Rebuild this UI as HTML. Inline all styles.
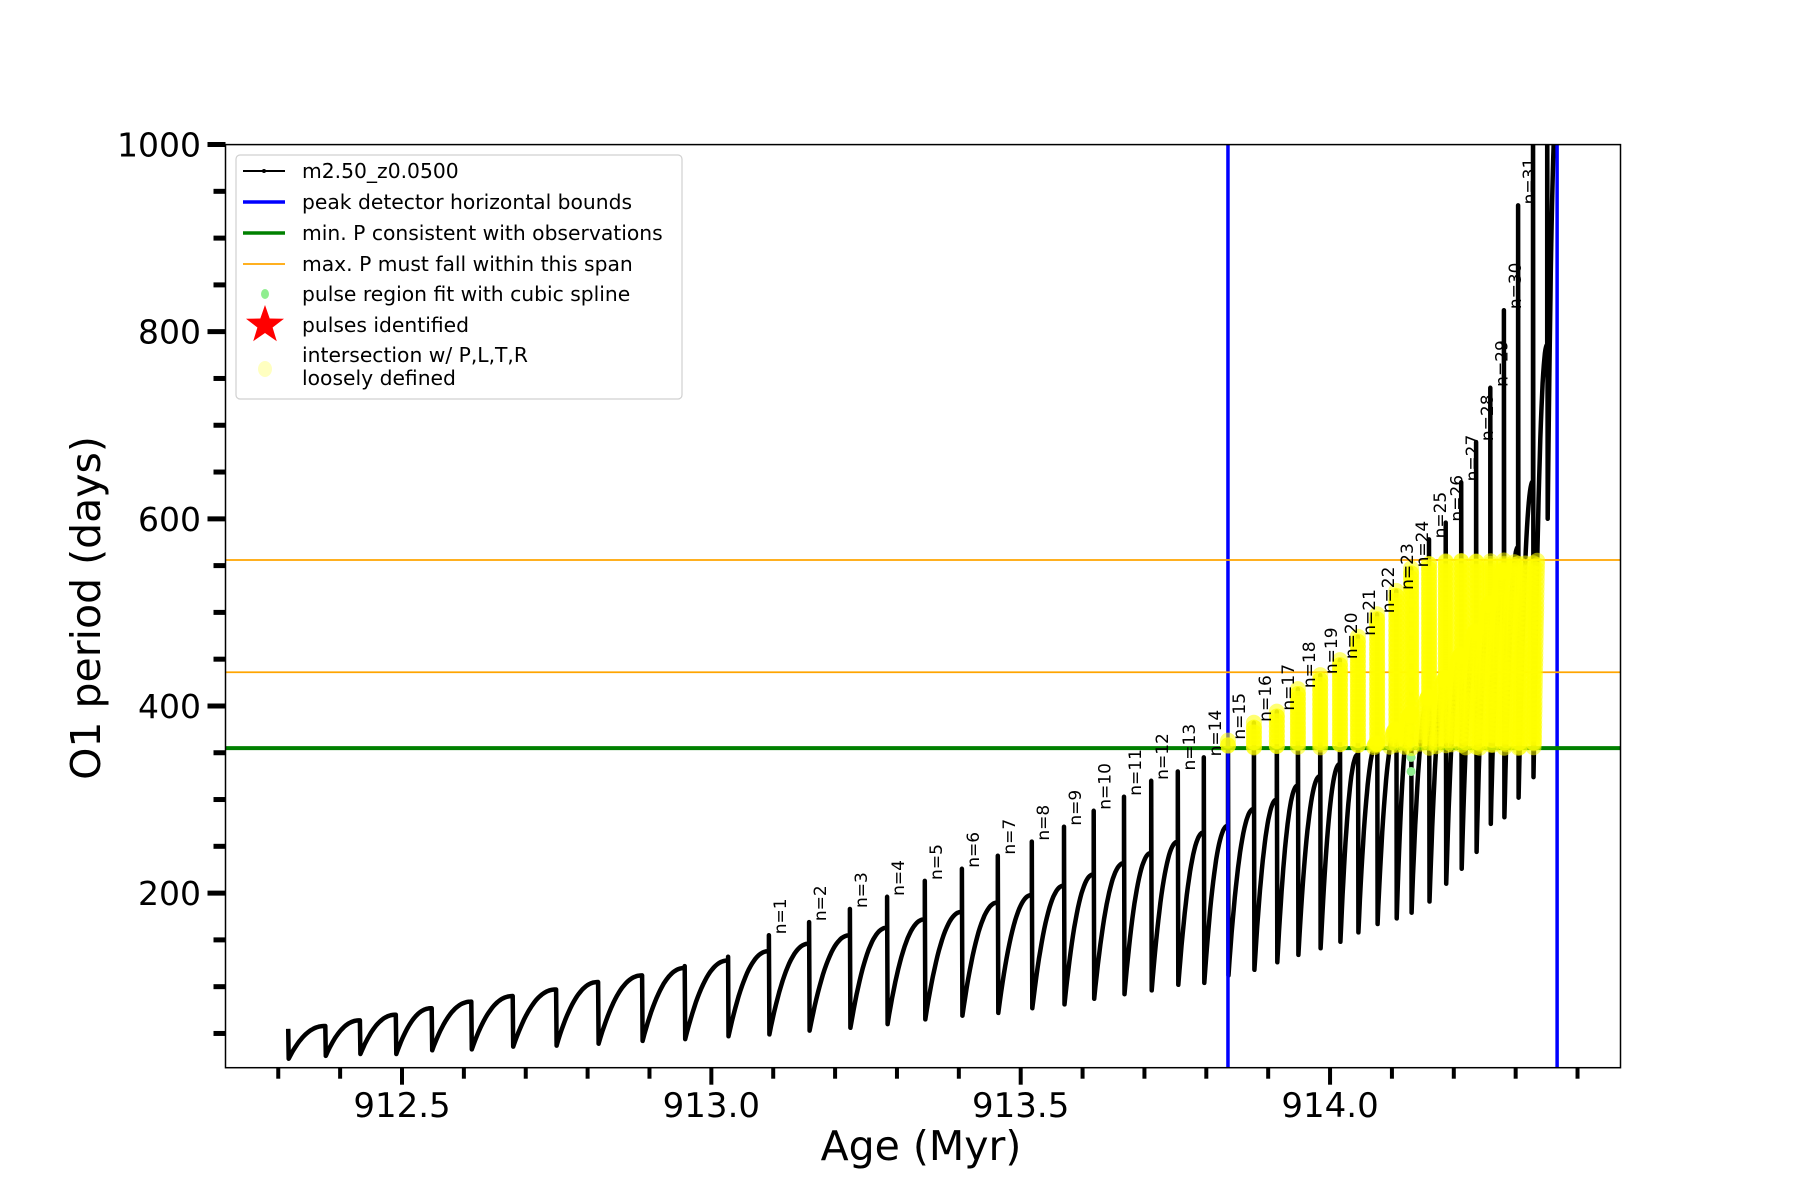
<!DOCTYPE html>
<html><head><meta charset="utf-8"><style>
html,body{margin:0;padding:0;background:#fff;}
svg{display:block;font-family:"DejaVu Sans","Liberation Sans",sans-serif;}
</style></head><body>
<svg id="chart" width="1800" height="1200" viewBox="0 0 1800 1200" xmlns="http://www.w3.org/2000/svg">
<g id="plot"></g>
<g id="axes"></g>
<g id="legend"></g>
</svg>
<script>
// ---- data ----
const pulseAges = [912.316,912.376,912.432,912.490,912.548,912.612,912.679,912.749,912.817,912.888,912.957,913.027,
913.093,913.158,913.224,913.284,913.345,913.405,913.463,913.518,913.570,913.618,913.667,913.711,913.754,913.796,
913.835,913.877,913.914,913.948,913.984,914.016,914.045,914.076,914.107,914.131,914.160,914.187,914.212,914.236,
914.259,914.281,914.304,914.328,914.351];
const pulsePre = [55,58,64,70,77,84,90,97,105,112,120,128,
138,146,155,163,172,180,190,198,208,220,232,243,255,265,
272,290,300,315,325,338,348,360,375,392,410,430,455,480,510,545,570,640,786];
const pulsePeak = [55,58,64,70,77,84,90,97,105,112,122,132,
155,169,183,196,213,226,240,255,271,288,303,320,330,345,
363,382,394,418,433,449,474,498,523,547,578,596,639,682,740,823,935,1100,1100];
const pulseMin = [23,26,28,28,32,33,36,37,39,42,44,47,
49,53,56,60,65,69,72,77,81,87,92,96,102,104,
112,118,126,134,141,148,158,167,173,179,191,210,226,244,274,281,302,324,600];
const endAge = [914.367];
const endValue = [1050];
const firstLabeledIndex = 12;
const greenValues = [330,345,360,375,390,405,420,435,450,465,480,495,510];
const greenAge = [914.131];
const yBoundsBlue = [913.835, 914.367];
const orangeValues = [556, 436];
const greenLineValue = [355];
const yMajorTicks = [200,400,600,800,1000];
const yMinorTicks = [50,100,150,250,300,350,450,500,550,650,700,750,850,900,950];
const xMajorTicks = [912.5,913.0,913.5,914.0];
const xMajorLabels = ["912.5","913.0","913.5","914.0"];
const xMinorTicks = [912.3,912.4,912.6,912.7,912.8,912.9,913.1,913.2,913.3,913.4,913.6,913.7,913.8,913.9,914.1,914.2,914.3,914.4];

// ---- axes functions ----
const L=225.5,R=1620.5,T=144.6,B=1067.7;
const X0=912.5,XP0=402,XS=618.7;
const Y0=200,YP0=893.1,YS=0.9357;
const xs=a=>XP0+(a-X0)*XS;
const ys=v=>YP0-(v-Y0)*YS;
const NS="http://www.w3.org/2000/svg";
function mk(tag,attrs,parent){const e=document.createElementNS(NS,tag);for(const k in attrs)e.setAttribute(k,attrs[k]);parent.appendChild(e);return e;}
const plot=document.getElementById('plot'),axes=document.getElementById('axes'),legend=document.getElementById('legend');

const defs=mk('defs',{},plot);
const cp=mk('clipPath',{id:'clip'},defs);
mk('rect',{x:L,y:T,width:R-L,height:B-T},cp);
const g=mk('g',{'clip-path':'url(#clip)'},plot);

const pts=[];
const shape=t=>1-Math.pow(1-t,2.2);
pts.push([pulseAges[0],pulsePeak[0]]);
pts.push([pulseAges[0]+0.0008,pulseMin[0]]);
for(let i=0;i<pulseAges.length;i++){
  const a0=pulseAges[i]+0.0008, v0=pulseMin[i];
  const a1=(i+1<pulseAges.length)?pulseAges[i+1]:endAge[0];
  const v1=(i+1<pulseAges.length)?pulsePre[i+1]:endValue[0];
  const N=24;
  for(let k=1;k<=N;k++){const t=k/N;pts.push([a0+(a1-a0)*t,v0+(v1-v0)*shape(t)]);}
  if(i+1<pulseAges.length){
    pts.push([pulseAges[i+1],pulsePeak[i+1]]);
    pts.push([pulseAges[i+1]+0.0008,pulseMin[i+1]]);
  }
}
const d=pts.map((p,i)=>(i?'L':'M')+xs(p[0]).toFixed(1)+' '+ys(p[1]).toFixed(1)).join('');
const curve=mk('path',{d:d,fill:'none',stroke:'#000','stroke-width':4.5,'stroke-linejoin':'round'},g);



yBoundsBlue.forEach(a=>{const l=mk('line',{x1:xs(a),x2:xs(a),y1:T,y2:B,stroke:'#0000ff','stroke-width':3.5},g);
});
orangeValues.forEach(v=>{const l=mk('line',{x1:L,x2:R,y1:ys(v),y2:ys(v),stroke:'#ffa500','stroke-width':1.8},g);
});
{const l=mk('line',{x1:L,x2:R,y1:ys(greenLineValue[0]),y2:ys(greenLineValue[0]),stroke:'#008000','stroke-width':4},g);
}

const gg=mk('g',{},g);

greenValues.forEach(v=>mk('circle',{cx:xs(greenAge[0]),cy:ys(v),r:4.5,fill:'#90ee90'},gg));

const yg=mk('g',{},g);

const hi=orangeValues[0];
const marks=[];
for(let i=1;i<pts.length;i++){
  const p0=pts[i-1],p1=pts[i];
  const x0=xs(p0[0]),y0=ys(p0[1]),x1=xs(p1[0]),y1=ys(p1[1]);
  const len=Math.hypot(x1-x0,y1-y0);const n=Math.max(1,Math.ceil(len/5));
  for(let k=0;k<n;k++){const t=k/n;const a=p0[0]+(p1[0]-p0[0])*t,v=p0[1]+(p1[1]-p0[1])*t;
    if(a>=yBoundsBlue[0]-0.002&&v>=greenLineValue[0]&&v<=hi)marks.push([x0+(x1-x0)*t,y0+(y1-y0)*t]);}
}
marks.forEach(m=>mk('circle',{cx:m[0].toFixed(1),cy:m[1].toFixed(1),r:8,fill:'#ffff00','fill-opacity':0.55},yg));

for(let i=firstLabeledIndex;i<pulseAges.length;i++){
  const n=i-firstLabeledIndex+1; if(n>31)break;
  const x=xs(pulseAges[i])+17,y=ys(pulsePeak[i])-1;
  const t=mk('text',{x:x,y:y,transform:`rotate(-90 ${x} ${y})`,'font-size':17,fill:'#000'},g);
  t.textContent='n='+n;
  
  
}

mk('rect',{x:L,y:T,width:R-L,height:B-T,fill:'none',stroke:'#000','stroke-width':1.5},axes);
yMajorTicks.forEach(v=>{mk('line',{x1:L-18,x2:L,y1:ys(v),y2:ys(v),stroke:'#000','stroke-width':5},axes);
  const t=mk('text',{x:201,y:ys(v)+12,'text-anchor':'end','font-size':33},axes);t.textContent=v;
  });
yMinorTicks.forEach(v=>mk('line',{x1:L-12,x2:L,y1:ys(v),y2:ys(v),stroke:'#000','stroke-width':5},axes));
xMajorTicks.forEach((a,i)=>{mk('line',{x1:xs(a),x2:xs(a),y1:B,y2:B+17,stroke:'#000','stroke-width':4},axes);
  const t=mk('text',{x:xs(a),y:1117,'text-anchor':'middle','font-size':34},axes);t.textContent=xMajorLabels[i];
  });
xMinorTicks.forEach(a=>mk('line',{x1:xs(a),x2:xs(a),y1:B,y2:B+11,stroke:'#000','stroke-width':4},axes));
{const t=mk('text',{x:921,y:1160,'text-anchor':'middle','font-size':41},axes);t.textContent='Age (Myr)';
}
{const t=mk('text',{x:100,y:608,'text-anchor':'middle','font-size':41,transform:'rotate(-90 100 608)'},axes);t.textContent='O1 period (days)';
}

mk('rect',{x:236,y:155,width:446,height:244,rx:4,fill:'#fff','fill-opacity':0.8,stroke:'#d0d0d0','stroke-width':1.2},legend);
const items=[
 ['m2.50_z0.0500',171,'black'],['peak detector horizontal bounds',202,'blue'],['min. P consistent with observations',233,'green'],
 ['max. P must fall within this span',264,'orange'],['pulse region fit with cubic spline',294,'gdot'],['pulses identified',325,'star'],
 ['intersection w/ P,L,T,R',355,'ydot']];
items.forEach(it=>{
  const y=it[1];const gi=mk('g',{},legend);
  
  if(it[2]==='black'){mk('line',{x1:243,x2:285,y1:y,y2:y,stroke:'#000','stroke-width':2},gi);mk('circle',{cx:264,cy:y,r:2,fill:'#000'},gi);}
  if(it[2]==='blue')mk('line',{x1:243,x2:285,y1:y,y2:y,stroke:'#0000ff','stroke-width':3.5},gi);
  if(it[2]==='green')mk('line',{x1:243,x2:285,y1:y,y2:y,stroke:'#008000','stroke-width':3.5},gi);
  if(it[2]==='orange')mk('line',{x1:243,x2:285,y1:y,y2:y,stroke:'#ffa500','stroke-width':1.8},gi);
  if(it[2]==='gdot')mk('ellipse',{cx:265,cy:y,rx:4,ry:5,fill:'#90ee90'},gi);
  if(it[2]==='star'){const cx=265,cy=y,ro=20,ri=8;let s='';for(let k=0;k<10;k++){const r=k%2?ri:ro;const an=-Math.PI/2+k*Math.PI/5;s+=(cx+r*Math.cos(an)).toFixed(1)+','+(cy+r*Math.sin(an)).toFixed(1)+' ';}
    mk('polygon',{points:s,fill:'#ff0000'},gi);}
  if(it[2]==='ydot')mk('ellipse',{cx:265,cy:y+14,rx:7,ry:8,fill:'#ffffc0'},gi);
  const t=mk('text',{x:302,y:y+7,'font-size':20.3},gi);t.textContent=it[0];
});
{const t=mk('text',{x:302,y:385,'font-size':20.3},legend);t.textContent='loosely defined';}
</script>
</body></html>
